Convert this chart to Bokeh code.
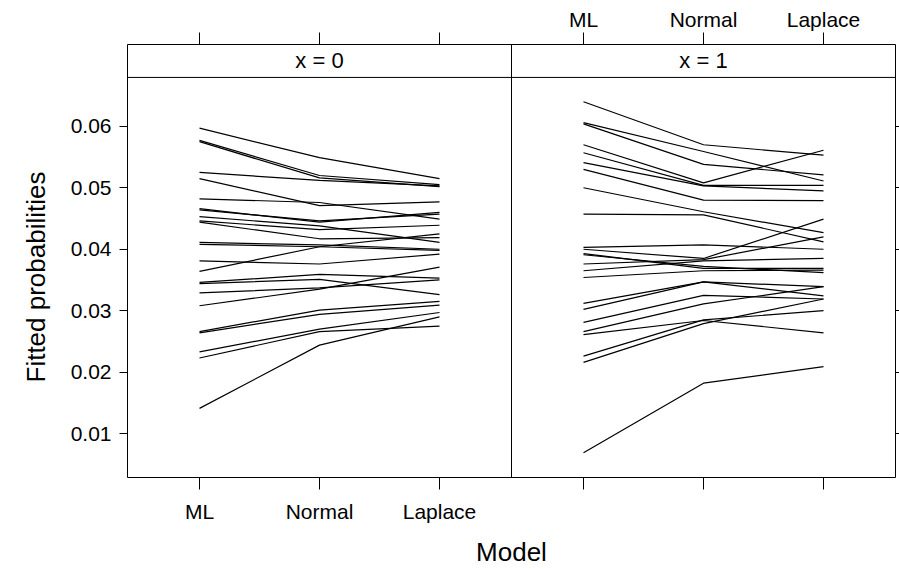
from bokeh.plotting import figure
from bokeh.models import Range1d, FixedTicker, LinearAxis, Span, PrintfTickFormatter, Title
from bokeh.embed import file_html
from bokeh.resources import INLINE
from bokeh.core.properties import value

models = ["ML", "Normal", "Laplace"]
panels = ["x = 0", "x = 1"]
y_ticks = [0.01, 0.02, 0.03, 0.04, 0.05, 0.06]

# panel x = 0
p0_ml      = [0.0597, 0.0577, 0.0575, 0.0525, 0.0515, 0.0482, 0.0466, 0.0464, 0.0453, 0.0446, 0.0444, 0.0411,
              0.0408, 0.0381, 0.0364, 0.0346, 0.0344, 0.0329, 0.0308, 0.0266, 0.0264, 0.0233, 0.0223, 0.0141]
p0_normal  = [0.0549, 0.0520, 0.0516, 0.0512, 0.0471, 0.0476, 0.0444, 0.0446, 0.0438, 0.0432, 0.0417, 0.0407,
              0.0404, 0.0376, 0.0404, 0.0359, 0.0351, 0.0337, 0.0335, 0.0301, 0.0294, 0.0270, 0.0266, 0.0244]
p0_laplace = [0.0515, 0.0505, 0.0502, 0.0503, 0.0477, 0.0449, 0.0460, 0.0457, 0.0411, 0.0439, 0.0419, 0.0400,
              0.0398, 0.0392, 0.0425, 0.0353, 0.0326, 0.0350, 0.0371, 0.0315, 0.0309, 0.0297, 0.0275, 0.0290]

# panel x = 1
p1_ml      = [0.0640, 0.0606, 0.0604, 0.0570, 0.0557, 0.0541, 0.0530, 0.0500, 0.0457, 0.0403, 0.0400, 0.0393,
              0.0391, 0.0376, 0.0365, 0.0354, 0.0312, 0.0302, 0.0281, 0.0266, 0.0261, 0.0226, 0.0216, 0.0069]
p1_normal  = [0.0570, 0.0559, 0.0538, 0.0508, 0.0504, 0.0503, 0.0480, 0.0461, 0.0456, 0.0407, 0.0385, 0.0369,
              0.0372, 0.0383, 0.0381, 0.0365, 0.0347, 0.0347, 0.0325, 0.0311, 0.0284, 0.0285, 0.0279, 0.0182]
p1_laplace = [0.0553, 0.0511, 0.0521, 0.0561, 0.0504, 0.0495, 0.0479, 0.0427, 0.0412, 0.0400, 0.0449, 0.0369,
              0.0362, 0.0420, 0.0385, 0.0366, 0.0324, 0.0339, 0.0319, 0.0339, 0.0264, 0.0300, 0.0319, 0.0209]

FONT = "Liberation Sans"
TICK_FS = "21px"
STRIP_FS = "22px"
TITLE_FS = "26px"
panel_width = 3.2          # each panel spans 3 categories plus 0.6 padding each side
offsets = [0.0, panel_width]
x_lo = 0.4
y_lo, y_hi = 0.002857, 0.067955
strip_top = 0.073312

series = [(p0_ml, p0_normal, p0_laplace), (p1_ml, p1_normal, p1_laplace)]

p = figure(width=899, height=569, output_backend="svg", toolbar_location=None,
           x_range=Range1d(x_lo, x_lo + 2 * panel_width), y_range=Range1d(y_lo, strip_top),
           x_axis_location=None, y_axis_location=None,
           min_border_left=127, min_border_right=4, min_border_top=44, min_border_bottom=91)
p.grid.visible = False
p.outline_line_color = "black"
p.outline_line_width = 1
p.background_fill_color = "white"
p.border_fill_color = "white"

xs, ys = [], []
for k, (a, b, c) in enumerate(series):
    for v in zip(a, b, c):
        xs.append([offsets[k] + i + 1 for i in range(len(models))])
        ys.append(list(v))
p.multi_line(xs, ys, line_color="black", line_width=1.2)

# strips and panel divider
p.add_layout(Span(location=y_hi, dimension="width", line_color="black", line_width=1))
p.add_layout(Span(location=x_lo + panel_width, dimension="height", line_color="black", line_width=1))
p.text(x=[offsets[0] + 2, offsets[1] + 2], y=[(y_hi + strip_top) / 2] * 2, text=panels,
       text_align="center", text_baseline="middle", text_color="black",
       text_font=value(FONT), text_font_size=STRIP_FS)

x_ticks = [offsets[k] + i + 1.0 for k in range(2) for i in range(3)]
bottom_labels = {}
top_labels = {}
for k in range(2):
    for i, m in enumerate(models):
        t = offsets[k] + i + 1.0
        bottom_labels[t] = m if k == 0 else ""
        top_labels[t] = m if k == 1 else ""


def style_axis(ax, tick_out, standoff):
    ax.axis_line_color = None
    ax.major_tick_line_color = "black"
    ax.major_tick_out = tick_out
    ax.major_tick_in = 0
    ax.minor_tick_out = 0
    ax.minor_tick_in = 0
    ax.major_label_standoff = standoff
    ax.major_label_text_color = "black"
    ax.major_label_text_font = FONT
    ax.major_label_text_font_size = TICK_FS
    ax.axis_label_text_color = "black"
    ax.axis_label_text_font = FONT
    ax.axis_label_text_font_style = "normal"
    ax.axis_label_text_font_size = TITLE_FS


bottom = LinearAxis(ticker=FixedTicker(ticks=x_ticks, minor_ticks=[]), major_label_overrides=bottom_labels,
                    axis_label="Model")
style_axis(bottom, 12, 10)
bottom.axis_label_standoff = 11
p.add_layout(bottom, "below")

top = LinearAxis(ticker=FixedTicker(ticks=x_ticks, minor_ticks=[]), major_label_overrides=top_labels)
style_axis(top, 12, 2)
p.add_layout(top, "above")

left = LinearAxis(ticker=FixedTicker(ticks=y_ticks, minor_ticks=[]), formatter=PrintfTickFormatter(format="%.2f"))
style_axis(left, 8, 8)
p.add_layout(left, "left")

# y title centred on the panels (strip excluded)
ytitle = Title(text="Fitted probabilities", align="left", offset=95, standoff=33,
               text_color="black", text_font=FONT, text_font_size=TITLE_FS, text_font_style="normal")
p.add_layout(ytitle, "left")

right = LinearAxis(ticker=FixedTicker(ticks=y_ticks, minor_ticks=[]),
                   major_label_overrides={t: "" for t in y_ticks})
style_axis(right, 4, 0)
right.major_label_text_font_size = "0px"
p.add_layout(right, "right")

open("out.html", "w").write(file_html(p, INLINE))
